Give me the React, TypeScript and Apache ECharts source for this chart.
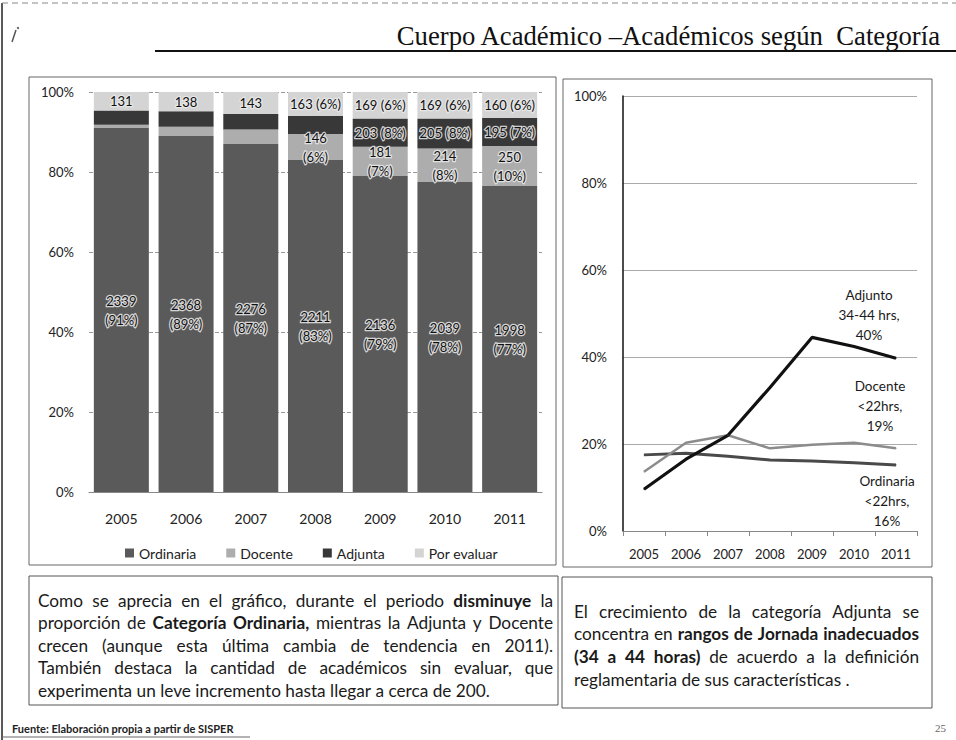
import React, { useEffect, useRef } from 'react';
import * as echarts from 'echarts';

// ---------- data ----------
const years = ['2005', '2006', '2007', '2008', '2009', '2010', '2011'];

// stacked 100% bars (share of total, %)
const ordinariaPct = [91, 89, 87, 83, 79, 77.5, 76.5];
const docentePct = [0.8, 2.3, 3.6, 6.5, 7.3, 8.4, 10];
const adjuntaPct = [3.6, 3.9, 3.9, 4.5, 7.1, 7.5, 7];
const porEvaluarPct = [4.6, 4.8, 5.5, 6, 6.6, 6.6, 6.5];

const ordinariaLabels = ['2339\n(91%)', '2368\n(89%)', '2276\n(87%)', '2211\n(83%)', '2136\n(79%)', '2039\n(78%)', '1998\n(77%)'];
const docenteLabels = ['', '', '', '146\n(6%)', '181\n(7%)', '214\n(8%)', '250\n(10%)'];
const adjuntaLabels = ['', '', '', '', '203 (8%)', '205 (8%)', '195 (7%)'];
const porEvaluarLabels = ['131', '138', '143', '163 (6%)', '169 (6%)', '169 (6%)', '160 (6%)'];

const barSeriesNames = ['Ordinaria', 'Docente', 'Adjunta', 'Por evaluar'];

// line chart (%)
const adjuntoLine = [9.6, 16.5, 22, 33, 44.5, 42.4, 39.7];
const docenteLine = [13.6, 20.3, 22, 19, 19.8, 20.3, 19];
const ordinariaLine = [17.5, 17.9, 17.2, 16.3, 16.1, 15.7, 15.2];
const adjuntoLineLabel = 'Adjunto\n34-44 hrs,\n40%';
const docenteLineLabel = 'Docente\n<22hrs,\n19%';
const ordinariaLineLabel = 'Ordinaria\n<22hrs,\n16%';

const titleText = 'Cuerpo Académico –Académicos según  Categoría';
const sourceText = 'Fuente: Elaboración propia a partir de SISPER';
const pageNumber = '25';

type Seg = [string, boolean];
const leftParagraph: Seg[][] = [
  [['Como se aprecia en el gráfico, durante el periodo', false], ['disminuye', true], ['la', false]],
  [['proporción de', false], ['Categoría Ordinaria,', true], ['mientras la Adjunta y Docente', false]],
  [['crecen (aunque esta última cambia de tendencia en 2011).', false]],
  [['También destaca la cantidad de académicos sin evaluar, que', false]],
  [['experimenta un leve incremento hasta llegar a cerca de 200.', false]],
];
const rightParagraph: Seg[][] = [
  [['El crecimiento de la categoría Adjunta se', false]],
  [['concentra en', false], ['rangos de Jornada inadecuados', true]],
  [['(34 a 44 horas)', true], ['de acuerdo a la definición', false]],
  [['reglamentaria de sus características .', false]],
];

const FONT = 'Lato';

let measureCtx: CanvasRenderingContext2D | null = null;
function measure(text: string, size: number, bold: boolean, family = FONT) {
  if (!measureCtx) measureCtx = document.createElement('canvas').getContext('2d');
  if (!measureCtx) return text.length * size * 0.5;
  measureCtx.font = `${bold ? 'bold ' : ''}${size}px ${family}`;
  return measureCtx.measureText(text).width;
}

function lineWords(line: Seg[]) {
  const words: { w: string; bold: boolean }[] = [];
  line.forEach(([txt, bold]) => txt.split(' ').filter(Boolean).forEach((w) => words.push({ w, bold })));
  return words;
}

function naturalWidth(line: Seg[], size: number) {
  const words = lineWords(line);
  const space = measure(' ', size, false);
  return words.reduce((a, o) => a + measure(o.w, size, o.bold), 0) + space * (words.length - 1);
}

function paragraph(lines: Seg[][], x0: number, width: number, y0: number, lineGap: number, size: number) {
  const els: any[] = [];
  lines.forEach((line, li) => {
    const words = lineWords(line);
    const widths = words.map((o) => measure(o.w, size, o.bold));
    const total = widths.reduce((a, b) => a + b, 0);
    const isLast = li === lines.length - 1;
    const space = measure(' ', size, false);
    const gap = isLast || words.length < 2 ? space : (width - total) / (words.length - 1);
    let x = x0;
    words.forEach((o, i) => {
      els.push({
        type: 'text',
        x,
        y: y0 + li * lineGap,
        silent: true,
        style: {
          text: o.w,
          fontFamily: FONT,
          fontSize: size,
          fontWeight: o.bold ? 'bold' : 'normal',
          fill: '#1a1a1a',
          align: 'left',
          verticalAlign: 'middle',
        },
      });
      x += widths[i] + gap;
    });
  });
  return els;
}

export default function App() {
  const ref = useRef<HTMLDivElement>(null);

  useEffect(() => {
    if (!ref.current) return;
    const chart = echarts.init(ref.current, null, { renderer: 'svg', width: 956, height: 740 });

    const titleSize = Math.min(28, (26 * 545) / measure(titleText, 26, false, 'Liberation Serif'));

    // body text size: last left line spans ~452px in the reference
    let bodySize = (15.5 * 452) / naturalWidth(leftParagraph[leftParagraph.length - 1], 15.5);
    const fits = (s: number) =>
      leftParagraph.every((l) => naturalWidth(l, s) <= 512) && rightParagraph.every((l) => naturalWidth(l, s) <= 343);
    while (bodySize > 12 && !fits(bodySize)) bodySize -= 0.2;

    const barLabel = (labels: string[]) => ({
      show: true,
      position: 'inside',
      formatter: (p: any) => labels[p.dataIndex],
      color: '#111',
      fontFamily: FONT,
      fontSize: 13,
      lineHeight: 19,
      textBorderColor: 'rgba(235,235,235,0.85)',
      textBorderWidth: 2.5,
    });

    const barColors = ['#5a5a5a', '#adadad', '#383838', '#d4d4d4'];
    const barData = [ordinariaPct, docentePct, adjuntaPct, porEvaluarPct];
    const barLabels = [ordinariaLabels, docenteLabels, adjuntaLabels, porEvaluarLabels];

    const bars = barSeriesNames.map((name, i) => ({
      name,
      type: 'bar',
      stack: 'total',
      xAxisIndex: 0,
      yAxisIndex: 0,
      barCategoryGap: '15%',
      data: barData[i],
      itemStyle: { color: barColors[i] },
      label: barLabel(barLabels[i]),
    }));

    const lastLabeled = (vals: number[], label: any) =>
      vals.map((v, i) => (i === vals.length - 1 ? { value: v, label } : v));

    const lineLabelBase = {
      show: true,
      fontFamily: FONT,
      fontSize: 13.5,
      lineHeight: 20,
      color: '#1a1a1a',
      align: 'center',
    };

    const lines = [
      {
        name: 'Ordinaria <22hrs',
        color: '#4a4a4a',
        width: 3,
        data: lastLabeled(ordinariaLine, {
          ...lineLabelBase,
          formatter: ordinariaLineLabel,
          position: 'bottom',
          distance: 5,
          offset: [-9, 1],
        }),
      },
      {
        name: 'Docente <22hrs',
        color: '#8c8c8c',
        width: 2.5,
        data: lastLabeled(docenteLine, {
          ...lineLabelBase,
          formatter: docenteLineLabel,
          position: 'top',
          distance: 5,
          offset: [-16, -7],
        }),
      },
      {
        name: 'Adjunto 34-44 hrs',
        color: '#111111',
        width: 3.2,
        data: lastLabeled(adjuntoLine, {
          ...lineLabelBase,
          formatter: adjuntoLineLabel,
          position: 'top',
          distance: 5,
          offset: [-27, -8],
        }),
      },
    ].map((l) => ({
      name: l.name,
      type: 'line',
      xAxisIndex: 1,
      yAxisIndex: 1,
      data: l.data,
      symbol: 'circle',
      symbolSize: 1,
      showSymbol: true,
      lineStyle: { color: l.color, width: l.width },
      itemStyle: { color: l.color },
      label: { show: false },
    }));

    const graphics: any[] = [
      // page frame
      { type: 'line', silent: true, shape: { x1: 2, y1: 3, x2: 2, y2: 740 }, style: { stroke: '#222', lineWidth: 1.5 } },
      { type: 'line', silent: true, shape: { x1: 2, y1: 3, x2: 956, y2: 3 }, style: { stroke: '#888', lineWidth: 1, lineDash: [6, 4] } },
      { type: 'line', silent: true, shape: { x1: 2, y1: 737, x2: 250, y2: 737 }, style: { stroke: '#666', lineWidth: 1 } },
      // logo mark
      { type: 'line', silent: true, shape: { x1: 12, y1: 42, x2: 16, y2: 30 }, style: { stroke: '#555', lineWidth: 1.5 } },
      { type: 'circle', silent: true, shape: { cx: 18, cy: 28, r: 1.2 }, style: { fill: '#666' } },
      // title
      {
        type: 'text',
        silent: true,
        x: 940,
        y: 36,
        style: {
          text: titleText,
          fontFamily: 'Liberation Serif',
          fontSize: titleSize,
          fill: '#111',
          align: 'right',
          verticalAlign: 'middle',
        },
      },
      { type: 'line', silent: true, shape: { x1: 155, y1: 51, x2: 956, y2: 51 }, style: { stroke: '#111', lineWidth: 2 } },
      // panels
      { type: 'rect', silent: true, shape: { x: 29, y: 77, width: 527, height: 488 }, style: { fill: 'none', stroke: '#666', lineWidth: 1 } },
      { type: 'rect', silent: true, shape: { x: 563, y: 79, width: 369, height: 488 }, style: { fill: 'none', stroke: '#666', lineWidth: 1 } },
      { type: 'rect', silent: true, shape: { x: 29, y: 576, width: 529, height: 129 }, style: { fill: 'none', stroke: '#555', lineWidth: 1 } },
      { type: 'rect', silent: true, shape: { x: 562, y: 577, width: 370, height: 131 }, style: { fill: 'none', stroke: '#555', lineWidth: 1 } },
      // source & page number
      {
        type: 'text',
        silent: true,
        x: 12,
        y: 728,
        style: { text: sourceText, fontFamily: FONT, fontWeight: 'bold', fontSize: 11, fill: '#222', align: 'left', verticalAlign: 'middle' },
      },
      {
        type: 'text',
        silent: true,
        x: 946,
        y: 728,
        style: { text: pageNumber, fontFamily: 'Liberation Serif', fontSize: 11, fill: '#666', align: 'right', verticalAlign: 'middle' },
      },
      ...paragraph(leftParagraph, 38, 515, 600, 22.5, bodySize),
      ...paragraph(rightParagraph, 574, 345, 611, 22.7, bodySize),
    ];

    chart.setOption({
      animation: false,
      backgroundColor: '#ffffff',
      textStyle: { fontFamily: FONT },
      grid: [
        { left: 89, top: 92, width: 453, height: 400 },
        { left: 623, top: 96, width: 294, height: 435 },
      ],
      legend: {
        data: barSeriesNames,
        left: 120,
        top: 541,
        icon: 'rect',
        itemWidth: 9,
        itemHeight: 9,
        itemGap: 30,
        textStyle: { fontFamily: FONT, fontSize: 14, color: '#222' },
        selectedMode: false,
      },
      xAxis: [
        {
          type: 'category',
          gridIndex: 0,
          data: years,
          axisLine: { lineStyle: { color: '#888' } },
          axisTick: { show: false },
          axisLabel: { fontFamily: FONT, fontSize: 14, color: '#222', margin: 19 },
        },
        {
          type: 'category',
          gridIndex: 1,
          data: years,
          boundaryGap: true,
          axisLine: { lineStyle: { color: '#888' } },
          axisTick: { show: true, length: 5, lineStyle: { color: '#888' } },
          axisLabel: { fontFamily: FONT, fontSize: 13, color: '#222', margin: 16 },
        },
      ],
      yAxis: [
        {
          type: 'value',
          gridIndex: 0,
          min: 0,
          max: 100,
          interval: 20,
          axisLine: { show: false },
          axisTick: { show: false },
          axisLabel: { formatter: '{value}%', fontFamily: FONT, fontSize: 13, color: '#222', margin: 15 },
          splitLine: { lineStyle: { color: '#999', type: 'dashed', width: 1 } },
        },
        {
          type: 'value',
          gridIndex: 1,
          min: 0,
          max: 100,
          interval: 20,
          axisLine: { show: true, lineStyle: { color: '#111', width: 1.5 } },
          axisTick: { show: false },
          axisLabel: { formatter: '{value}%', fontFamily: FONT, fontSize: 13, color: '#222', margin: 16 },
          splitLine: { lineStyle: { color: '#aaa', width: 1 } },
        },
      ],
      series: [...bars, ...lines],
      graphic: graphics,
    });

    return () => chart.dispose();
  }, []);

  return <div ref={ref} style={{ position: 'fixed', left: 0, top: 0, width: 956, height: 740 }} />;
}
